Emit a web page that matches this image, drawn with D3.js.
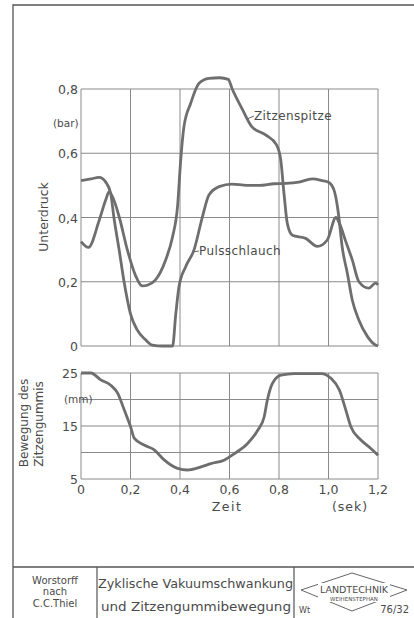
<!DOCTYPE html>
<html>
<head>
<meta charset="utf-8">
<script src="https://cdn.jsdelivr.net/npm/d3@7.9.0/dist/d3.min.js"></script>
<style>
  body { margin: 0; background: #fff; }
  svg { display: block; }
  text { font-family: "DejaVu Sans", sans-serif; fill: #4a4a4a; }
</style>
</head>
<body>
<svg id="chart" width="414" height="618"></svg>
<script>
// Zitzenspitze (bar vs sec)
const zitzeT = [0, 0.03, 0.073, 0.10, 0.113, 0.13, 0.155, 0.187, 0.22, 0.247, 0.27, 0.30, 0.342, 0.37, 0.39, 0.403, 0.416, 0.443, 0.477, 0.517, 0.56, 0.595, 0.611, 0.65, 0.69, 0.746, 0.79, 0.807, 0.82, 0.834, 0.854, 0.908, 0.955, 0.995, 1.03, 1.045, 1.07, 1.096, 1.123, 1.163, 1.19, 1.2];
const zitzeV = [0.325, 0.307, 0.39, 0.455, 0.48, 0.46, 0.40, 0.30, 0.22, 0.187, 0.19, 0.205, 0.268, 0.34, 0.434, 0.58, 0.683, 0.755, 0.818, 0.833, 0.835, 0.83, 0.80, 0.74, 0.683, 0.657, 0.626, 0.58, 0.476, 0.38, 0.345, 0.335, 0.31, 0.33, 0.40, 0.38, 0.325, 0.268, 0.20, 0.18, 0.196, 0.19];

// Pulsschlauch (bar vs sec)
const pulsT = [0, 0.04, 0.073, 0.10, 0.12, 0.133, 0.154, 0.174, 0.20, 0.227, 0.26, 0.288, 0.33, 0.37, 0.383, 0.396, 0.423, 0.457, 0.49, 0.517, 0.558, 0.61, 0.67, 0.72, 0.78, 0.827, 0.88, 0.934, 0.975, 1.0, 1.022, 1.036, 1.042, 1.055, 1.076, 1.096, 1.123, 1.157, 1.19, 1.2];
const pulsV = [0.515, 0.52, 0.525, 0.51, 0.475, 0.40, 0.30, 0.20, 0.10, 0.05, 0.02, 0.003, 0, 0, 0.10, 0.185, 0.247, 0.30, 0.40, 0.47, 0.496, 0.504, 0.50, 0.50, 0.505, 0.506, 0.51, 0.52, 0.515, 0.51, 0.486, 0.434, 0.40, 0.31, 0.227, 0.143, 0.08, 0.03, 0.003, 0];

// Bewegung des Zitzengummis (mm vs sec)
const gummiT = [0, 0.04, 0.08, 0.12, 0.148, 0.175, 0.2, 0.215, 0.255, 0.296, 0.336, 0.39, 0.43, 0.485, 0.525, 0.58, 0.62, 0.673, 0.714, 0.74, 0.753, 0.773, 0.808, 0.862, 0.97, 1.01, 1.044, 1.07, 1.09, 1.13, 1.17, 1.2];
const gummiV = [25, 25, 23.7, 22.7, 21.2, 18.0, 14.9, 12.7, 11.4, 10.5, 8.6, 7.0, 6.7, 7.3, 7.9, 8.6, 9.8, 11.7, 14.2, 16.7, 19.9, 23.0, 24.6, 24.9, 24.9, 24.0, 21.8, 18.0, 14.9, 12.4, 10.8, 9.5];

const timeTicks = [0, 0.2, 0.4, 0.6, 0.8, 1.0, 1.2];
const pressTicks = [0, 0.2, 0.4, 0.6, 0.8];
const mmGrid = [5, 10, 15, 20, 25];
const mmLabels = [5, 15, 25];

const svg = d3.select("#chart");
const comma = d => d === 0 ? "0" : d3.format(".1f")(d).replace(".", ",");

const x = d3.scaleLinear().domain([0, 1.2]).range([81, 378]);
const yTop = d3.scaleLinear().domain([0, 0.8]).range([346, 89]);
const yBot = d3.scaleLinear().domain([5, 25]).range([479, 373]);

// sheet frame
const frame = svg.append("g").attr("stroke", "#555").attr("fill", "none");
frame.append("path").attr("d", "M13,618 L13,5 L414,5").attr("stroke-width", 1.3);
frame.append("path").attr("d", "M13,567 L414,567").attr("stroke-width", 1.3);
frame.append("path").attr("d", "M97,567 L97,618 M294,567 L294,618").attr("stroke-width", 1.2);

// grid for a panel
function grid(y, yTicks) {
  const g = svg.append("g").attr("stroke", "#8a8a8a").attr("stroke-width", 1);
  g.selectAll(".v").data(timeTicks).join("line")
    .attr("x1", d => x(d)).attr("x2", d => x(d))
    .attr("y1", y.range()[0]).attr("y2", y.range()[1]);
  g.selectAll(".h").data(yTicks).join("line")
    .attr("x1", x(0)).attr("x2", x(1.2))
    .attr("y1", d => y(d)).attr("y2", d => y(d));
}
grid(yTop, pressTicks);
grid(yBot, mmGrid);

// tick labels
svg.append("g").selectAll("text").data(pressTicks).join("text")
  .attr("x", 78).attr("y", d => yTop(d) + 5)
  .attr("text-anchor", "end").attr("font-size", 12.5)
  .text(comma);

svg.append("g").selectAll("text").data(mmLabels).join("text")
  .attr("x", 78).attr("y", d => yBot(d) + 5)
  .attr("text-anchor", "end").attr("font-size", 12.5)
  .text(d => d);

svg.append("g").selectAll("text").data(timeTicks).join("text")
  .attr("x", d => x(d)).attr("y", 494)
  .attr("text-anchor", "middle").attr("font-size", 12.5)
  .text(comma);

// curves
const line = (y) => d3.line().x(d => x(d[0])).y(d => y(d[1])).curve(d3.curveMonotoneX);
const curves = [
  { t: pulsT, v: pulsV, y: yTop },
  { t: zitzeT, v: zitzeV, y: yTop },
  { t: gummiT, v: gummiV, y: yBot }
];
svg.append("g").selectAll("path").data(curves).join("path")
  .attr("d", c => line(c.y)(d3.zip(c.t, c.v)))
  .attr("fill", "none").attr("stroke", "#6e6e6e")
  .attr("stroke-width", 2.8).attr("stroke-linejoin", "round");

// curve labels with leaders
svg.append("line").attr("x1", 247).attr("y1", 119).attr("x2", 254).attr("y2", 116)
  .attr("stroke", "#666").attr("stroke-width", 1);
svg.append("text").attr("x", 254).attr("y", 120).attr("font-size", 12).attr("letter-spacing", 0.4).text("Zitzenspitze");
svg.append("line").attr("x1", 192).attr("y1", 252).attr("x2", 199).attr("y2", 251)
  .attr("stroke", "#666").attr("stroke-width", 1);
svg.append("text").attr("x", 199).attr("y", 255).attr("font-size", 12).attr("letter-spacing", 0.4).text("Pulsschlauch");

// axis titles
svg.append("text").attr("x", 53).attr("y", 127).attr("font-size", 10.5).text("(bar)");
svg.append("text").attr("transform", "translate(48,217) rotate(-90)")
  .attr("text-anchor", "middle").attr("font-size", 12.5).text("Unterdruck");
svg.append("text").attr("transform", "translate(28,423) rotate(-90)")
  .attr("text-anchor", "middle").attr("font-size", 12).text("Bewegung des");
svg.append("text").attr("transform", "translate(43,424) rotate(-90)")
  .attr("text-anchor", "middle").attr("font-size", 12).text("Zitzengummis");
svg.append("text").attr("x", 64).attr("y", 403).attr("font-size", 10.5).text("(mm)");
svg.append("text").attr("x", 227).attr("y", 511).attr("text-anchor", "middle")
  .attr("font-size", 12.5).attr("letter-spacing", 1.5).text("Zeit");
svg.append("text").attr("x", 350).attr("y", 511).attr("text-anchor", "middle")
  .attr("font-size", 12.5).attr("letter-spacing", 1).text("(sek)");

// title block: logo first, then texts on top
svg.append("path").attr("d", "M301,590 L352,573 L407,590 L352,611 Z")
  .attr("fill", "none").attr("stroke", "#666").attr("stroke-width", 1);
svg.append("rect").attr("x", 318).attr("y", 583).attr("width", 72).attr("height", 19).attr("fill", "#fff");

const tb = svg.append("g").attr("font-size", 10);
tb.append("text").attr("x", 55).attr("y", 584).attr("text-anchor", "middle").text("Worstorff");
tb.append("text").attr("x", 55).attr("y", 595).attr("text-anchor", "middle").text("nach");
tb.append("text").attr("x", 55).attr("y", 607).attr("text-anchor", "middle").text("C.C.Thiel");
tb.append("text").attr("x", 98).attr("y", 588).attr("font-size", 12)
  .attr("textLength", 195).attr("lengthAdjust", "spacingAndGlyphs").text("Zyklische Vakuumschwankung");
tb.append("text").attr("x", 101).attr("y", 611).attr("font-size", 12)
  .attr("textLength", 190).attr("lengthAdjust", "spacingAndGlyphs").text("und Zitzengummibewegung");
tb.append("text").attr("x", 354).attr("y", 593).attr("text-anchor", "middle").attr("font-size", 9.5).text("LANDTECHNIK");
tb.append("text").attr("x", 354).attr("y", 601).attr("text-anchor", "middle").attr("font-size", 5.5).text("WEIHENSTEPHAN");
tb.append("text").attr("x", 299).attr("y", 613).attr("font-size", 8).text("Wt");
tb.append("text").attr("x", 409).attr("y", 613).attr("text-anchor", "end").attr("font-size", 10).text("76/32");
</script>
</body>
</html>
